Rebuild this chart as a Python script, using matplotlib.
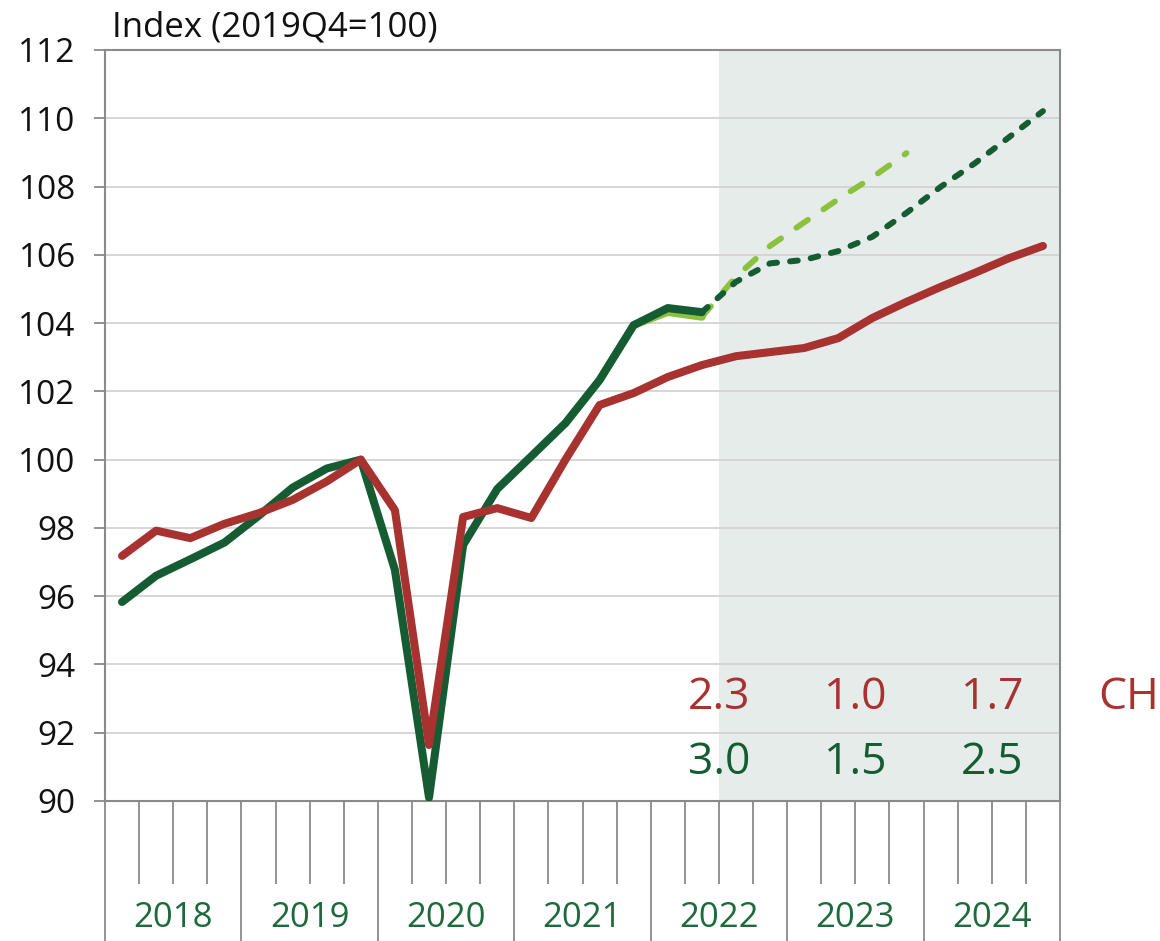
import numpy as np
import matplotlib
matplotlib.use("Agg")
from matplotlib import pyplot as plt
from matplotlib import transforms

plt.rcParams['font.family'] = ['Open Sans', 'DejaVu Sans']

# quarterly index values, 2018Q1 .. 2024Q4 (2019Q4 = 100)
years = [2018, 2019, 2020, 2021, 2022, 2023, 2024]
ch = [97.18, 97.92, 97.70, 98.12, 98.43, 98.82, 99.36, 100.0,
      98.52, 91.64, 98.32, 98.58, 98.29, 100.0, 101.6, 101.95,
      102.42, 102.77, 103.03, 103.15, 103.27, 103.56, 104.15, 104.62,
      105.06, 105.47, 105.9, 106.26]
# dark green, history up to 2022Q2
green_hist = [95.83, 96.6, 97.08, 97.57, 98.35, 99.18, 99.74, 100.0,
              96.77, 90.1, 97.5, 99.14, 100.1, 101.07, 102.33, 103.94,
              104.44, 104.32]
# dark green forecast, 2022Q2 .. 2024Q4
green_fc = [104.32, 105.21, 105.75, 105.85, 106.11, 106.53, 107.23,
            107.99, 108.68, 109.44, 110.21]
# light green (earlier vintage), history 2021Q2 .. 2022Q2, forecast to 2023Q4
lgreen_hist = [101.07, 102.33, 103.94, 104.32, 104.18]
lgreen_fc = [104.18, 105.36, 106.26, 106.95, 107.63, 108.27, 108.98]

growth_ch = ['2.3', '1.0', '1.7']
growth_green = ['3.0', '1.5', '2.5']

RED = '#a8322f'
DGREEN = '#155c32'
LGREEN = '#8cc13f'
TXTGREEN = '#1d6a3b'
GRAY = '#8a8a8a'

fig = plt.figure(figsize=(11.6, 9.41), dpi=100)
ax = fig.add_axes([105/1160, 1-801/941, 955/1160, 751/941])

x_all = np.arange(28) + 0.5
ax.axvspan(18, 28, color='#e6ecea', zorder=0, lw=0)

# light green vintage
x_lh = x_all[13:18]
x_lf = x_all[17:24]
ax.plot(x_lh, lgreen_hist, color=LGREEN, lw=5.5, solid_capstyle='round',
        solid_joinstyle='round', zorder=2)
ax.plot(x_lf, lgreen_fc, color=LGREEN, lw=4.2, dashes=(2.4, 3.2),
        dash_capstyle='round', zorder=2)

# dark green
ax.plot(x_all[:18], green_hist, color=DGREEN, lw=5.8, solid_capstyle='round',
        solid_joinstyle='round', zorder=3)
ax.plot(x_all[17:], green_fc, color=DGREEN, lw=4.3, dashes=(1.3, 2.2),
        dash_capstyle='round', zorder=3)

# CH
ax.plot(x_all, ch, color=RED, lw=5.8, solid_capstyle='round',
        solid_joinstyle='round', zorder=4)

ax.set_xlim(0, 28)
ax.set_ylim(90, 112)
ax.set_yticks(np.arange(90, 113, 2))
ax.grid(axis='y', color='#d3d3d3', lw=1.3)
ax.set_axisbelow(True)

ax.set_xticks(np.arange(0, 29, 4))
ax.set_xticks([q for q in range(1, 28) if q % 4 != 0], minor=True)
ax.set_xticklabels([])
ax.tick_params(axis='x', which='major', length=101, width=1.3, color=GRAY)
ax.tick_params(axis='x', which='minor', length=60, width=1.3, color=GRAY)
ax.tick_params(axis='y', length=8, width=1.3, color=GRAY, pad=13,
               labelsize=24, labelcolor='#111111')

for s in ['left', 'right', 'top', 'bottom']:
    ax.spines[s].set_color(GRAY)
    ax.spines[s].set_linewidth(1.5)

trans = transforms.blended_transform_factory(ax.transData, ax.transAxes)
for i, yr in enumerate(years):
    ax.text(i*4 + 2, -0.156, str(yr), transform=trans, ha='center',
            va='center', fontsize=25, color=TXTGREEN, clip_on=False)

for i in range(3):
    ax.text(18 + 4*i, 93.02, growth_ch[i], ha='center', va='center',
            fontsize=32, color=RED, zorder=6)
    ax.text(18 + 4*i, 91.11, growth_green[i], ha='center', va='center',
            fontsize=32, color=DGREEN, zorder=6)
ax.text(30, 93.02, 'CH', ha='center', va='center', fontsize=32,
        color=RED, clip_on=False)

fig.text(112/1160, 1-27/941, 'Index (2019Q4=100)', ha='left', va='center',
         fontsize=25, color='#111111')

fig.savefig('out.png', dpi=100)
